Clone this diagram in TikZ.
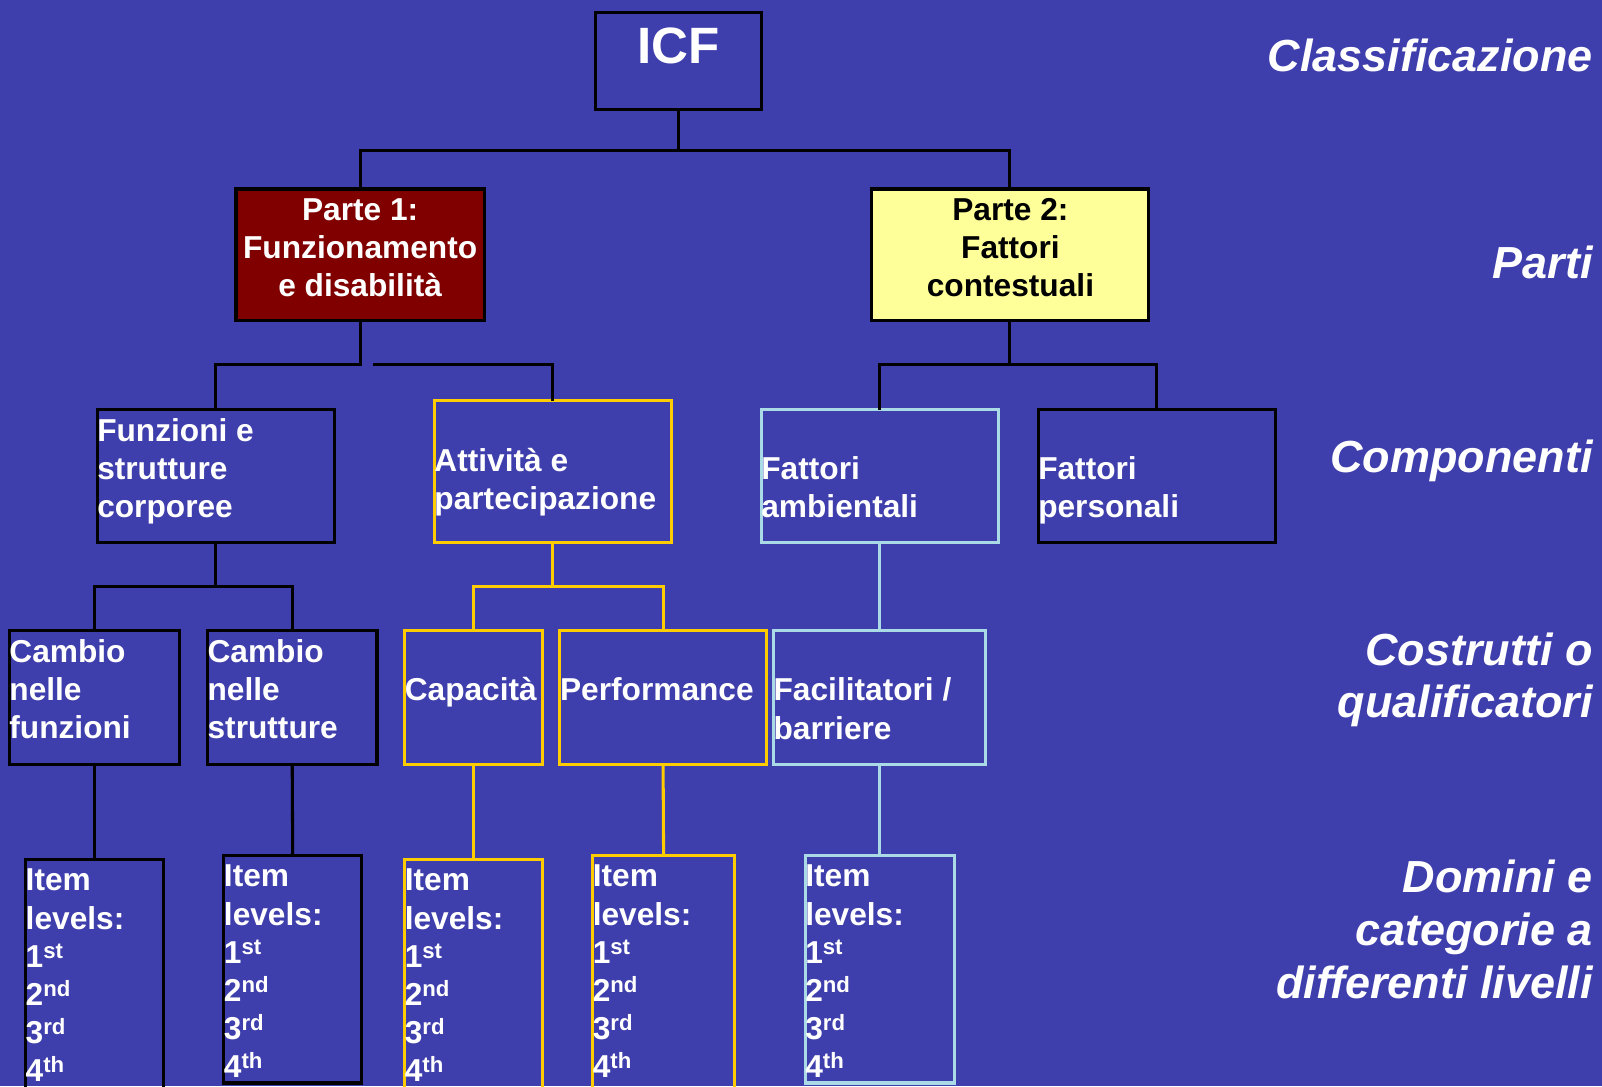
\documentclass[tikz,border=0pt]{standalone}
\usepackage{fontspec}
\setmainfont{Liberation Sans}
\definecolor{bg}{RGB}{62,62,172}
\definecolor{yel}{RGB}{255,204,0}
\definecolor{lblue}{RGB}{170,218,230}
\definecolor{dred}{RGB}{128,0,0}
\definecolor{pyel}{RGB}{255,255,153}
\newcommand{\tleft}[1]{\parbox[t]{400pt}{\raggedright #1}}
\newcommand{\tcent}[1]{\parbox[t]{400pt}{\centering #1}}
\newcommand{\tright}[1]{\parbox[t]{500pt}{\raggedleft #1}}
\begin{document}
\begin{tikzpicture}[x=1pt,y=-1pt,
  box/.style={draw=black, line width=3pt, inner sep=0pt, outer sep=0pt, anchor=north west},
  ybox/.style={box, draw=yel},
  bbox/.style={box, draw=lblue},
  txt/.style={text=white, font=\fontsize{31}{37.4}\selectfont\bfseries, inner sep=0pt, anchor=base west},
  ctxt/.style={txt, anchor=base},
  lab/.style={text=white, font=\fontsize{44}{51.5}\selectfont\bfseries\itshape, inner sep=0pt, anchor=base east},
  conn/.style={line width=3pt}]
\clip (0,0) rectangle (1568,1063);
\fill[bg] (0,0) rectangle (1568,1063);

% boxes
\node[box, minimum width=162pt, minimum height=95pt] (icf) at (583,12) {};
\node[box, fill=dred, minimum width=243pt, minimum height=129pt] (p1) at (231,185) {};
\node[box, fill=pyel, minimum width=271pt, minimum height=129pt] (p2) at (853,185) {};
\node[box, minimum width=232pt, minimum height=130pt] (fun) at (95,401) {};
\node[ybox, minimum width=232pt, minimum height=139pt] (att) at (425,392) {};
\node[bbox, minimum width=232pt, minimum height=130pt] (fa) at (745,401) {};
\node[box, minimum width=232pt, minimum height=130pt] (fp) at (1016,401) {};
\node[box, minimum width=167pt, minimum height=131pt] (cf) at (9,617) {};
\node[box, minimum width=166pt, minimum height=131pt] (cs) at (203,617) {};
\node[ybox, minimum width=135pt, minimum height=131pt] (cap) at (396,617) {};
\node[ybox, minimum width=202pt, minimum height=131pt] (perf) at (548,617) {};
\node[bbox, minimum width=208pt, minimum height=131pt] (fab) at (757,617) {};
\node[box, minimum width=135pt, minimum height=240pt] (i1) at (25,841) {};
\node[box, minimum width=135pt, minimum height=223pt] (i2) at (219,837) {};
\node[ybox, minimum width=135pt, minimum height=240pt] (i3) at (396,841) {};
\node[ybox, minimum width=139pt, minimum height=240pt] (i4) at (580,837) {};
\node[bbox, minimum width=146pt, minimum height=223pt] (i5) at (788,837) {};

% texts
\node[ctxt, font=\fontsize{50}{60}\selectfont\bfseries] (ticf) at (664,62.6) {ICF};
\node[ctxt] (tp1) at (352.5,215.5) {\tcent{Parte 1:\\Funzionamento\\e disabilità}};
\node[ctxt, text=black] (tp2) at (989,215.5) {\tcent{Parte 2:\\Fattori\\contestuali}};
\node[txt] (tfun) at (95,432) {\tleft{Funzioni e\\strutture\\corporee}};
\node[txt] (tatt) at (425,461) {\tleft{Attività e\\partecipazione}};
\node[txt] (tfa) at (745,469) {\tleft{Fattori\\ambientali}};
\node[txt] (tfp) at (1016,469) {\tleft{Fattori\\personali}};
\node[txt] (tcf) at (9,648) {\tleft{Cambio\\nelle\\funzioni}};
\node[txt] (tcs) at (203,648) {\tleft{Cambio\\nelle\\strutture}};
\node[txt] (tcap) at (396,686) {Capacità};
\node[txt] (tperf) at (548,686) {Performance};
\node[txt] (tfab) at (757,686) {\tleft{Facilitatori /\\barriere}};
\node[txt] (ti1) at (25,872) {\tleft{Item\\levels:\\1\textsuperscript{st}\\2\textsuperscript{nd}\\3\textsuperscript{rd}\\4\textsuperscript{th}}};
\node[txt] (ti2) at (219,868) {\tleft{Item\\levels:\\1\textsuperscript{st}\\2\textsuperscript{nd}\\3\textsuperscript{rd}\\4\textsuperscript{th}}};
\node[txt] (ti3) at (396,872) {\tleft{Item\\levels:\\1\textsuperscript{st}\\2\textsuperscript{nd}\\3\textsuperscript{rd}\\4\textsuperscript{th}}};
\node[txt] (ti4) at (580,868) {\tleft{Item\\levels:\\1\textsuperscript{st}\\2\textsuperscript{nd}\\3\textsuperscript{rd}\\4\textsuperscript{th}}};
\node[txt] (ti5) at (788,868) {\tleft{Item\\levels:\\1\textsuperscript{st}\\2\textsuperscript{nd}\\3\textsuperscript{rd}\\4\textsuperscript{th}}};

% right labels
\node[lab] (l1) at (1559,70) {Classificazione};
\node[lab] (l2) at (1559,273) {Parti};
\node[lab] (l3) at (1559,462) {Componenti};
\node[lab] (l4) at (1559,651) {\tright{Costrutti o\\qualificatori}};
\node[lab] (l5) at (1559,874) {\tright{Domini e\\categorie a\\differenti livelli}};

% connectors
\coordinate (h1) at (0,147);
\coordinate (h2) at (0,357);
\coordinate (h3) at (0,574);
\coordinate (gap) at (365,357);
\draw[conn] (icf.south) -- (icf.south |- h1) -| (p1.north);
\draw[conn] (icf.south |- h1) -| (p2.north);
\draw[conn] (p1.south) -- (p1.south |- h2) -| (fun.north);
\draw[conn] (gap) -| (att.north);
\draw[conn] (p2.south) -- (p2.south |- h2) -| (fa.north);
\draw[conn] (p2.south |- h2) -| (fp.north);
\draw[conn] (fun.south) -- (fun.south |- h3) -| (cf.north);
\draw[conn] (fun.south |- h3) -| (cs.north);
\draw[conn, draw=yel] (att.south) -- (att.south |- h3) -| (cap.north);
\draw[conn, draw=yel] (att.south |- h3) -| (perf.north);
\draw[conn, draw=lblue] (fa.south) -- (fab.north);
\draw[conn] (cf.south) -- (i1.north);
\draw[conn] (cs.south) -- (i2.north);
\draw[conn, draw=yel] (cap.south) -- (i3.north);
\draw[conn, draw=yel] (perf.south) -- (i4.north);
\draw[conn, draw=lblue] (fab.south) -- (i5.north);
\end{tikzpicture}
\end{document}
